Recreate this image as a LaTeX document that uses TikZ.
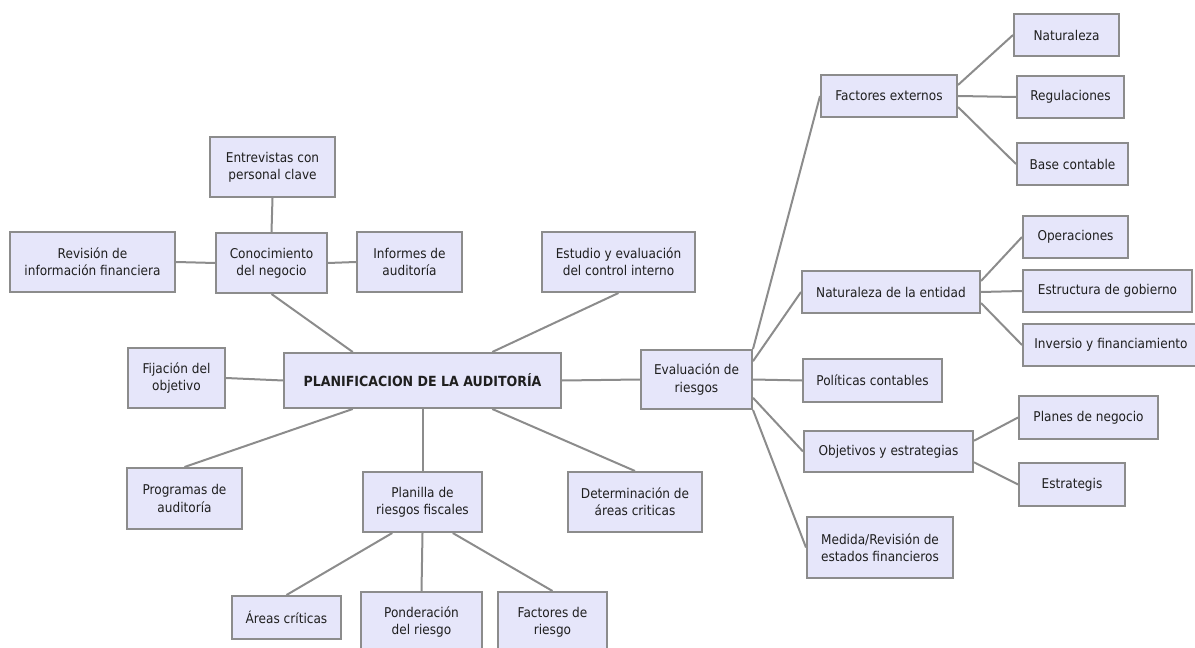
\documentclass[tikz,border=0pt]{standalone}
\usepackage{fontspec}
\setmainfont{DejaVu Sans}[FakeStretch=0.9]
\usetikzlibrary{calc}
\definecolor{boxfill}{RGB}{230,230,250}
\definecolor{boxline}{RGB}{140,140,140}

\begin{document}
\begin{tikzpicture}[x=0.75pt, y=-0.75pt,
    box/.style 2 args={draw=boxline, line width=1.5pt, fill=boxfill, inner sep=0pt,
        align=center, text=black!88, minimum width=#1*0.75pt, minimum height=#2*0.75pt,
        font=\fontsize{10.1}{12.8}\selectfont},
    link/.style={draw=boxline, line width=1.5pt}]
    \useasboundingbox (0,0) rectangle (1195,648);

    % centro
    \node[box={277}{55}, font=\fontsize{10.5}{12.8}\selectfont\bfseries] (plan) at (422.5,380.5) {PLANIFICACION DE LA AUDITORÍA};

    % izquierda
    \node[box={111}{60}] (conoc) at (271.5,263) {Conocimiento\\del negocio};
    \node[box={125}{60}] (entrev) at (272.5,167) {Entrevistas con\\personal clave};
    \node[box={165}{60}] (revis) at (92.5,262) {Revisión de\\información financiera};
    \node[box={105}{60}] (inform) at (409.5,262) {Informes de\\auditoría};
    \node[box={153}{60}] (estud) at (618.5,262) {Estudio y evaluación\\del control interno};
    \node[box={97}{60}] (fijac) at (176.5,378) {Fijación del\\objetivo};
    \node[box={115}{61}] (progr) at (184.5,498.5) {Programas de\\auditoría};
    \node[box={119}{60}] (planil) at (422.5,502) {Planilla de\\riesgos fiscales};
    \node[box={134}{60}] (determ) at (635,502) {Determinación de\\áreas criticas};
    \node[box={109}{43}] (areas) at (286.5,617.5) {Áreas críticas};
    \node[box={121}{60}] (ponder) at (421.5,622) {Ponderación\\del riesgo};
    \node[box={109}{60}] (factr) at (552.5,622) {Factores de\\riesgo};

    % derecha
    \node[box={111}{59}] (evalu) at (696.5,379.5) {Evaluación de\\riesgos};
    \node[box={136}{42}] (facext) at (889,96) {Factores externos};
    \node[box={105}{42}] (natur) at (1066.5,35) {Naturaleza};
    \node[box={107}{42}] (regul) at (1070.5,97) {Regulaciones};
    \node[box={111}{42}] (basec) at (1072.5,164) {Base contable};
    \node[box={178}{42}] (natent) at (891,292) {Naturaleza de la entidad};
    \node[box={105}{42}] (operac) at (1075.5,237) {Operaciones};
    \node[box={169}{42}] (estruc) at (1107.5,291) {Estructura de gobierno};
    \node[box={176}{42}] (invers) at (1111,345) {Inversio y financiamiento};
    \node[box={139}{43}] (polit) at (872.5,380.5) {Políticas contables};
    \node[box={169}{41}] (objet) at (888.5,451.5) {Objetivos y estrategias};
    \node[box={139}{43}] (planes) at (1088.5,417.5) {Planes de negocio};
    \node[box={106}{43}] (estrat) at (1072,484.5) {Estrategis};
    \node[box={146}{61}] (medida) at (880,547.5) {Medida/Revisión de\\estados financieros};

    % conectores del centro
    \draw[link] ($(plan.north west)!.25!(plan.north east)$) -- (conoc.south);
    \draw[link] ($(plan.north west)!.75!(plan.north east)$) -- (estud.south);
    \draw[link] (plan.west) -- (fijac.east);
    \draw[link] (plan.east) -- (evalu.west);
    \draw[link] ($(plan.south west)!.25!(plan.south east)$) -- (progr.north);
    \draw[link] (plan.south) -- (planil.north);
    \draw[link] ($(plan.south west)!.75!(plan.south east)$) -- (determ.north);

    \draw[link] (conoc.north) -- (entrev.south);
    \draw[link] (conoc.west) -- (revis.east);
    \draw[link] (conoc.east) -- (inform.west);

    \draw[link] ($(planil.south west)!.25!(planil.south east)$) -- (areas.north);
    \draw[link] (planil.south) -- (ponder.north);
    \draw[link] ($(planil.south west)!.75!(planil.south east)$) -- (factr.north);

    % conectores de la evaluacion
    \draw[link] (evalu.north east) -- (facext.west);
    \draw[link] ($(evalu.north east)!.2!(evalu.south east)$) -- (natent.west);
    \draw[link] (evalu.east) -- (polit.west);
    \draw[link] ($(evalu.north east)!.8!(evalu.south east)$) -- (objet.west);
    \draw[link] (evalu.south east) -- (medida.west);

    \draw[link] ($(facext.north east)!.25!(facext.south east)$) -- (natur.west);
    \draw[link] (facext.east) -- (regul.west);
    \draw[link] ($(facext.north east)!.75!(facext.south east)$) -- (basec.west);

    \draw[link] ($(natent.north east)!.25!(natent.south east)$) -- (operac.west);
    \draw[link] (natent.east) -- (estruc.west);
    \draw[link] ($(natent.north east)!.75!(natent.south east)$) -- (invers.west);

    \draw[link] ($(objet.north east)!.25!(objet.south east)$) -- (planes.west);
    \draw[link] ($(objet.north east)!.75!(objet.south east)$) -- (estrat.west);
\end{tikzpicture}
\end{document}
